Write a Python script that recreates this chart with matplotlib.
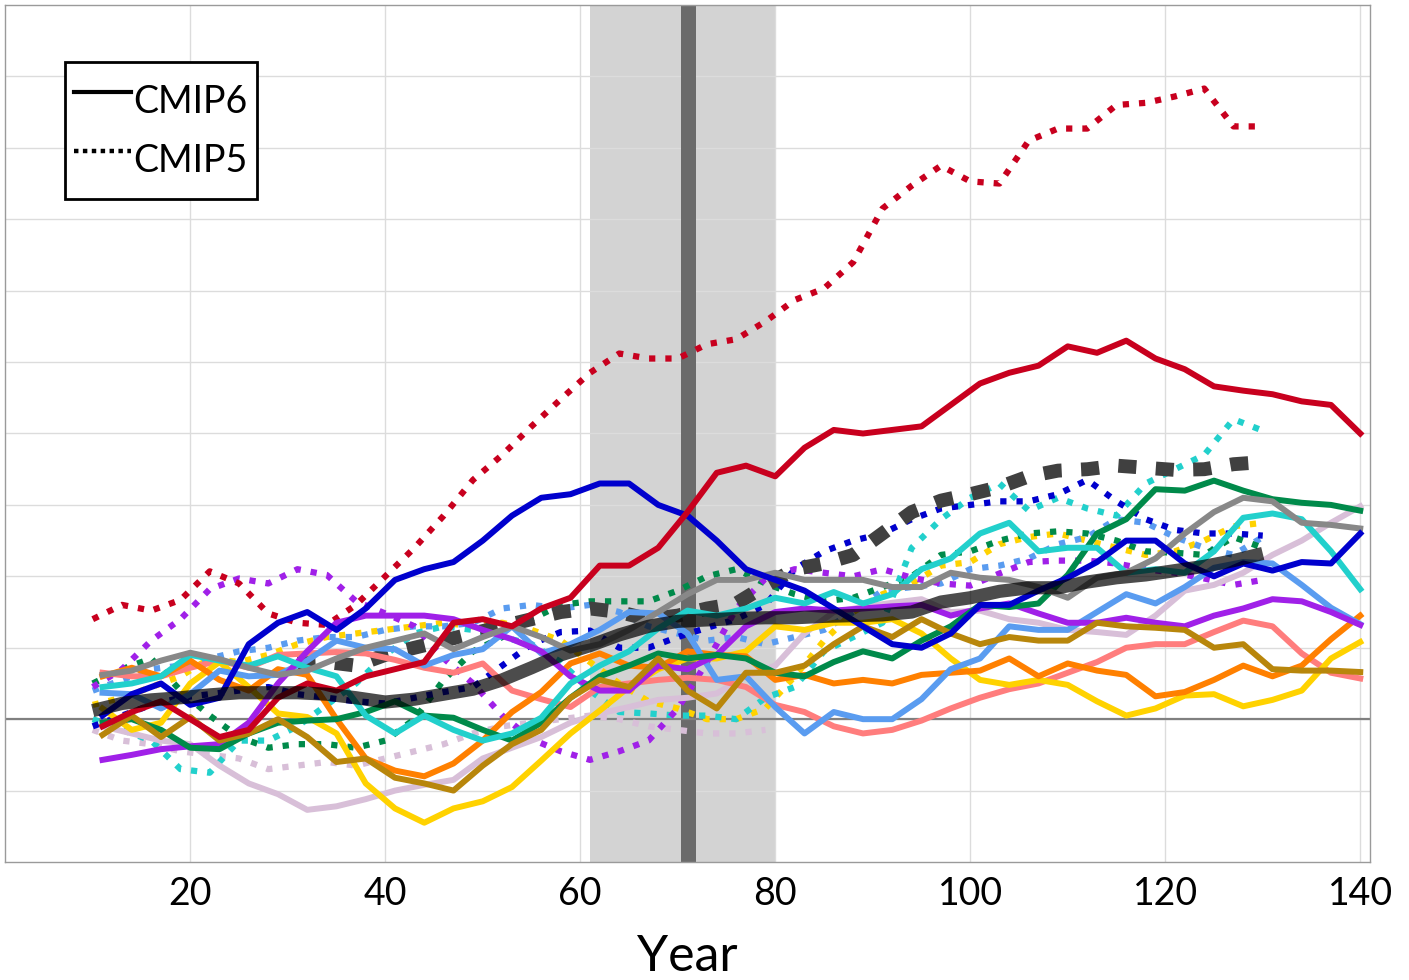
import matplotlib
matplotlib.use('Agg')
import matplotlib.pyplot as plt
from matplotlib.lines import Line2D

plt.rcParams['font.family'] = ['Lato', 'DejaVu Sans']

# x positions of the sampled points
years6 = list(range(11, 141, 3))   # CMIP6 models, 11..140
years5 = list(range(10, 131, 3))   # CMIP5 models and CMIP6 mean, 10..130
years5_short = list(range(10, 80, 3))
years5_mean = list(range(31, 131, 3))

# ---- CMIP6 (solid) ----
cmip6_red = [-0.1, 0.1, 0.25, 0.0, -0.25, -0.15, 0.3, 0.5, 0.4, 0.6,
             0.7, 0.8, 1.35, 1.4, 1.3, 1.55, 1.7, 2.15, 2.15, 2.4,
             2.9, 3.45, 3.55, 3.4, 3.8, 4.05, 4.0, 4.05, 4.1, 4.4,
             4.7, 4.85, 4.95, 5.22, 5.13, 5.3, 5.05, 4.9, 4.66, 4.6,
             4.55, 4.45, 4.4, 4.0]
cmip6_blue = [0.05, 0.35, 0.5, 0.2, 0.3, 1.05, 1.35, 1.5, 1.25, 1.55,
              1.95, 2.1, 2.2, 2.5, 2.85, 3.1, 3.15, 3.3, 3.3, 3.0,
              2.85, 2.5, 2.1, 1.95, 1.8, 1.55, 1.3, 1.05, 1.0, 1.2,
              1.6, 1.6, 1.8, 1.98, 2.2, 2.5, 2.5, 2.18, 2.0, 2.18,
              2.08, 2.2, 2.18, 2.6]
cmip6_purple = [-0.57, -0.5, -0.42, -0.38, -0.35, -0.05, 0.5, 0.95, 1.35, 1.45,
                1.45, 1.45, 1.4, 1.25, 1.12, 0.95, 0.6, 0.4, 0.4, 0.75,
                0.7, 0.9, 1.3, 1.5, 1.55, 1.52, 1.55, 1.58, 1.6, 1.45,
                1.55, 1.62, 1.48, 1.35, 1.35, 1.42, 1.35, 1.3, 1.45, 1.55,
                1.68, 1.65, 1.5, 1.32]
cmip6_green = [-0.05, 0.0, -0.15, -0.4, -0.42, -0.2, -0.05, -0.02, 0.0, 0.1,
               0.25, 0.05, 0.02, -0.15, -0.3, -0.05, 0.3, 0.6, 0.75, 0.92,
               0.85, 0.9, 0.85, 0.65, 0.6, 0.8, 0.95, 0.85, 1.1, 1.3,
               1.6, 1.57, 1.62, 2.02, 2.6, 2.8, 3.22, 3.2, 3.34, 3.2,
               3.08, 3.03, 3.0, 2.92]
cmip6_gray = [0.62, 0.68, 0.82, 0.93, 0.84, 0.72, 0.62, 0.68, 0.85, 1.0,
              1.1, 1.2, 0.98, 1.15, 1.3, 1.15, 0.96, 1.05, 1.25, 1.5,
              1.75, 1.95, 1.95, 2.05, 1.95, 1.95, 1.95, 1.85, 1.85, 2.05,
              1.98, 1.95, 1.85, 1.7, 1.98, 2.05, 2.25, 2.6, 2.9, 3.1,
              3.05, 2.75, 2.72, 2.67]
cmip6_cyan = [0.45, 0.5, 0.6, 0.9, 0.82, 0.75, 0.88, 0.72, 0.6, 0.05,
              -0.2, 0.05, -0.15, -0.3, -0.2, 0.02, 0.5, 0.75, 0.95, 1.27,
              1.52, 1.45, 1.55, 1.7, 1.62, 1.78, 1.62, 1.75, 2.1, 2.25,
              2.6, 2.75, 2.35, 2.4, 2.4, 2.05, 2.1, 2.05, 2.35, 2.82,
              2.88, 2.8, 2.35, 1.82]
cmip6_lightblue = [0.37, 0.35, 0.15, 0.35, 0.68, 0.6, 0.62, 0.82, 1.1, 1.0,
                   0.98, 0.75, 0.9, 0.98, 1.3, 0.92, 1.05, 1.25, 1.5, 1.48,
                   1.2, 0.55, 0.6, 0.17, -0.2, 0.1, 0.0, 0.0, 0.28, 0.7,
                   0.85, 1.3, 1.25, 1.25, 1.5, 1.75, 1.62, 1.85, 2.12, 2.2,
                   2.18, 1.88, 1.56, 1.33]
cmip6_salmon = [0.65, 0.6, 0.6, 0.72, 0.82, 0.72, 0.9, 0.92, 0.94, 0.92,
                0.83, 0.72, 0.65, 0.78, 0.4, 0.28, 0.17, 0.45, 0.5, 0.55,
                0.58, 0.55, 0.45, 0.2, 0.1, -0.1, -0.2, -0.15, -0.02, 0.15,
                0.3, 0.42, 0.5, 0.65, 0.8, 1.0, 1.05, 1.05, 1.22, 1.38,
                1.3, 0.92, 0.65, 0.57]
cmip6_orange = [0.6, 0.72, 0.6, 0.82, 0.55, 0.4, 0.7, 0.62, 0.0, -0.55,
                -0.72, -0.8, -0.62, -0.3, 0.1, 0.38, 0.78, 0.92, 0.75, 0.72,
                0.95, 0.9, 0.88, 0.55, 0.62, 0.5, 0.55, 0.5, 0.62, 0.65,
                0.68, 0.85, 0.6, 0.78, 0.68, 0.62, 0.32, 0.38, 0.55, 0.75,
                0.6, 0.75, 1.12, 1.45]
cmip6_gold = [0.15, -0.15, -0.05, 0.5, 0.8, 0.45, 0.08, 0.03, -0.2, -0.9,
              -1.25, -1.45, -1.25, -1.15, -0.95, -0.58, -0.2, 0.12, 0.45, 0.7,
              0.85, 0.85, 0.95, 1.3, 1.25, 1.35, 1.35, 1.4, 1.2, 0.85,
              0.55, 0.48, 0.55, 0.48, 0.25, 0.05, 0.15, 0.33, 0.35, 0.18,
              0.27, 0.4, 0.85, 1.08]
cmip6_goldenrod = [-0.22, 0.05, -0.25, 0.03, -0.3, -0.2, 0.0, -0.25, -0.6, -0.55,
                   -0.82, -0.9, -1.0, -0.65, -0.35, -0.15, 0.3, 0.55, 0.45, 0.85,
                   0.4, 0.15, 0.65, 0.65, 0.75, 1.05, 1.3, 1.15, 1.4, 1.2,
                   1.05, 1.15, 1.1, 1.1, 1.35, 1.3, 1.28, 1.25, 1.0, 1.05,
                   0.7, 0.68, 0.68, 0.66]
cmip6_thistle = [-0.1, -0.2, -0.3, -0.35, -0.65, -0.9, -1.05, -1.27, -1.22, -1.12,
                 -1.0, -0.92, -0.85, -0.55, -0.4, -0.25, -0.05, 0.08, 0.17, 0.27,
                 0.3, 0.36, 0.6, 0.75, 1.2, 1.5, 1.57, 1.63, 1.68, 1.5,
                 1.52, 1.4, 1.35, 1.25, 1.22, 1.18, 1.45, 1.8, 1.88, 2.05,
                 2.3, 2.5, 2.75, 2.98]
cmip6_mean = [0.12, 0.22, 0.27, 0.3, 0.34, 0.37, 0.37, 0.37, 0.35, 0.3,
              0.24, 0.28, 0.35, 0.42, 0.55, 0.72, 0.9, 1.03, 1.18, 1.3,
              1.37, 1.39, 1.41, 1.42, 1.42, 1.44, 1.45, 1.46, 1.5, 1.64,
              1.7, 1.79, 1.84, 1.84, 1.92, 1.98, 2.02, 2.08, 2.14, 2.22,
              2.32]

# ---- CMIP5 (dotted) ----
cmip5_red = [1.4, 1.6, 1.52, 1.67, 2.07, 1.9, 1.48, 1.35, 1.32, 1.6,
             2.0, 2.4, 2.85, 3.35, 3.7, 4.1, 4.48, 4.85, 5.12, 5.05,
             5.05, 5.25, 5.32, 5.57, 5.87, 6.03, 6.4, 7.15, 7.47, 7.75,
             7.53, 7.5, 8.1, 8.27, 8.27, 8.6, 8.63, 8.72, 8.83, 8.3,
             8.3]
cmip5_purple = [0.45, 0.7, 1.1, 1.4, 1.82, 1.97, 1.9, 2.1, 2.02, 1.65,
                1.48, 1.3, 0.85, 0.5, 0.05, -0.28, -0.45, -0.57, -0.45, -0.3,
                0.15, 0.8, 1.55, 1.97, 2.1, 2.05, 2.0, 2.1, 1.98, 1.9,
                1.87, 2.04, 2.2, 2.22, 2.22, 2.18, 2.1, 2.05, 1.97, 1.88,
                1.95]
cmip5_cyan = [0.0, -0.15, -0.3, -0.7, -0.75, -0.3, -0.3, -0.1, 0.2, 0.5,
              0.9, 1.2, 1.3, 1.25, 1.15, 1.05, 0.8, 0.4, 0.1, 0.08,
              0.05, 0.05, 0.0, 0.3, 0.45, 0.95, 1.15, 1.35, 2.4, 2.8,
              3.1, 3.3, 2.92, 3.1, 2.95, 2.85, 3.3, 3.5, 3.7, 4.2,
              4.04]
cmip5_blue = [-0.1, 0.05, 0.2, 0.3, 0.35, 0.4, 0.45, 0.35, 0.3, 0.25,
              0.22, 0.3, 0.38, 0.45, 0.75, 1.05, 1.22, 1.24, 1.0, 1.0,
              1.15, 1.28, 1.4, 1.6, 2.1, 2.35, 2.5, 2.6, 2.8, 2.95,
              3.0, 3.05, 3.05, 3.15, 3.35, 3.05, 2.8, 2.65, 2.6, 2.6,
              2.57]
cmip5_green = [0.5, 0.7, 0.85, 0.4, 0.05, -0.25, -0.4, -0.35, -0.35, -0.4,
               -0.3, 0.0, 0.55, 0.95, 1.15, 1.4, 1.6, 1.65, 1.65, 1.65,
               1.8, 2.0, 2.1, 1.9, 1.75, 1.65, 1.7, 1.85, 2.0, 2.3,
               2.35, 2.5, 2.6, 2.63, 2.6, 2.5, 2.35, 2.33, 2.3, 2.55,
               2.4]
cmip5_gold = [0.2, 0.3, 0.45, 0.6, 0.85, 0.8, 0.9, 1.05, 1.15, 1.2,
              1.25, 1.3, 1.35, 1.3, 1.35, 1.25, 1.1, 0.8, 0.5, 0.25,
              0.15, 0.0, 0.0, 0.15, 0.6, 1.1, 1.5, 1.75, 1.9, 2.15,
              2.2, 2.45, 2.55, 2.6, 2.5, 2.4, 2.3, 2.35, 2.5, 2.7,
              2.75]
cmip5_lightblue = [0.4, 0.55, 0.7, 0.75, 0.85, 0.95, 1.0, 1.1, 1.15, 1.15,
                   1.25, 1.3, 1.3, 1.35, 1.55, 1.6, 1.55, 1.6, 1.5, 1.3,
                   1.2, 1.1, 1.15, 1.05, 1.15, 1.25, 1.5, 1.8, 1.85, 1.9,
                   2.1, 2.15, 2.25, 2.45, 2.55, 2.8, 2.75, 2.55, 2.4, 2.3,
                   2.55]
cmip5_thistle = [-0.15, -0.3, -0.35, -0.45, -0.5, -0.55, -0.7, -0.65, -0.6, -0.65,
                 -0.55, -0.45, -0.35, -0.2, -0.1, -0.05, 0.0, 0.05, 0.0, -0.1,
                 -0.15, -0.2, -0.2, -0.15]
cmip5_mean = [0.78, 0.8, 0.75,
              0.9, 1.0, 1.1, 1.2, 1.3, 1.4, 1.5, 1.55, 1.5, 1.4,
              1.45, 1.55, 1.62, 1.87, 2.1, 2.18, 2.3, 2.6, 2.9, 3.06,
              3.15, 3.25, 3.4, 3.48, 3.5, 3.55, 3.52, 3.49, 3.5, 3.57,
              3.6]

RED = '#c8001e'
BLUE = '#0000cd'
PURPLE = '#a020e8'
GREEN = '#008a4a'
GRAY = '#888888'
CYAN = '#22d0cc'
LBLUE = '#5a9cf0'
SALMON = '#ff7d7d'
ORANGE = '#ff8000'
GOLD = '#ffd200'
GOLDENROD = '#b8860b'
THISTLE = '#d8bfd8'

fig = plt.figure(figsize=(14.09, 9.8), dpi=100)
ax = fig.add_axes([5 / 1409, 1 - 862 / 980, 1365 / 1409, 857 / 980])

# background: grid, baseline, analysis window
ax.set_xlim(1, 141)
ax.set_ylim(-2, 10)
ax.set_xticks(range(20, 141, 20))
ax.set_yticks(range(-1, 10))
ax.set_yticklabels([])
ax.grid(color='#dcdcdc', lw=1, zorder=0)
ax.set_axisbelow(True)
ax.axvspan(61, 80, color='#d3d3d3', lw=0, zorder=0.5)
ax.axvline(71, color='#6b6b6b', lw=10.8, zorder=0.6)
ax.axhline(0, color='#808080', lw=1.6, zorder=0.7)

dot = (0, (1.0, 1.6))
lw5 = 4.5
ax.plot(years5_short, cmip5_thistle, color=THISTLE, lw=lw5, ls=dot, zorder=2)
for y, c in [(cmip5_gold, GOLD), (cmip5_lightblue, LBLUE), (cmip5_green, GREEN),
             (cmip5_cyan, CYAN), (cmip5_blue, BLUE), (cmip5_purple, PURPLE),
             (cmip5_red, RED)]:
    ax.plot(years5, y, color=c, lw=lw5, ls=dot, zorder=2)

# CMIP5 ensemble mean sits between the dotted and the solid lines
ax.plot(years5_mean, cmip5_mean, color='#404040', lw=10, ls=(0, (1.3, 1.4)), zorder=2.5)

lw6 = 4.3
for y, c in [(cmip6_thistle, THISTLE), (cmip6_salmon, SALMON), (cmip6_gold, GOLD),
             (cmip6_orange, ORANGE), (cmip6_lightblue, LBLUE), (cmip6_purple, PURPLE),
             (cmip6_green, GREEN), (cmip6_goldenrod, GOLDENROD), (cmip6_cyan, CYAN),
             (cmip6_gray, GRAY), (cmip6_blue, BLUE), (cmip6_red, RED)]:
    ax.plot(years6, y, color=c, lw=lw6, solid_joinstyle='round', zorder=3)

ax.plot(years5, cmip6_mean, color='black', lw=9.5, alpha=0.7,
        solid_capstyle='butt', solid_joinstyle='round', zorder=4)

ax.tick_params(axis='both', length=0)
ax.tick_params(axis='x', labelsize=27, pad=10)
ax.set_xlabel('Year', fontsize=36, labelpad=16)
for s in ax.spines.values():
    s.set_color('#9a9a9a')
    s.set_linewidth(1)

handles = [Line2D([], [], color='black', lw=3),
           Line2D([], [], color='black', lw=3.2, ls=(0, (1, 1)))]
leg = ax.legend(handles, ['CMIP6', 'CMIP5'], loc='upper left',
                bbox_to_anchor=(0.044, 0.9335), borderaxespad=0,
                fontsize=27, fancybox=False, framealpha=1, edgecolor='black',
                handlelength=1.5, handleheight=2.05, handletextpad=0.08,
                borderpad=0.25, labelspacing=0.0)
leg.get_frame().set_linewidth(2)

fig.savefig('out.png', dpi=100)
